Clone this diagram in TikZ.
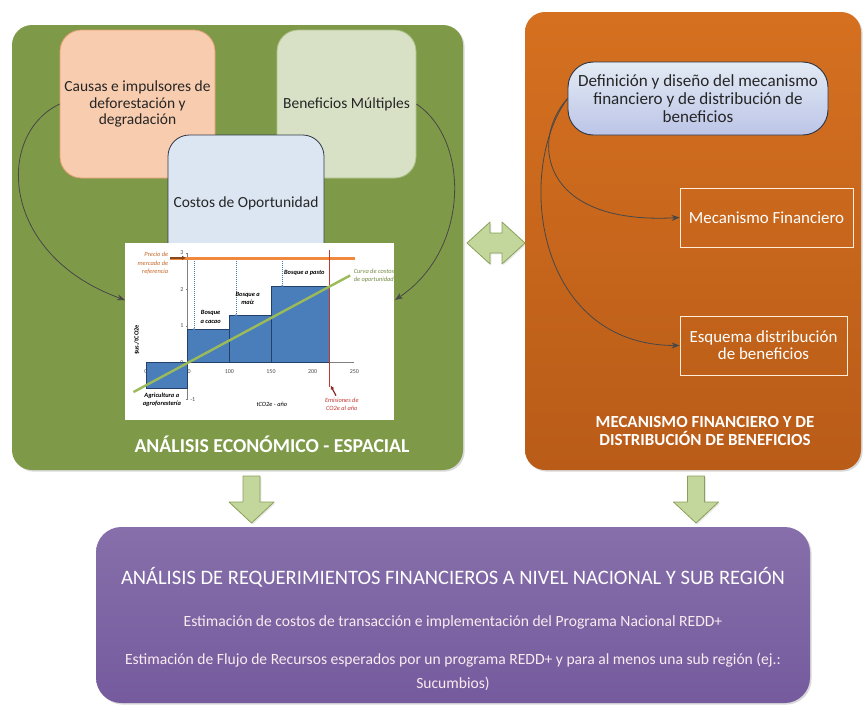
\documentclass[tikz,border=0pt]{standalone}
\usepackage{fontspec}
\setmainfont{Carlito}
\usetikzlibrary{arrows.meta}
\usetikzlibrary{fit}
\usetikzlibrary{shadows}

\definecolor{panelgreen}{RGB}{126,154,72}
\definecolor{orangetop}{RGB}{213,112,32}
\definecolor{orangebot}{RGB}{185,92,24}
\definecolor{purpletop}{RGB}{134,111,170}
\definecolor{purplebot}{RGB}{117,91,158}
\definecolor{peach}{RGB}{248,204,174}
\definecolor{peachline}{RGB}{228,160,116}
\definecolor{sage}{RGB}{216,225,197}
\definecolor{sageline}{RGB}{176,192,138}
\definecolor{paleblue}{RGB}{220,230,242}
\definecolor{darkline}{RGB}{45,55,72}
\definecolor{arrowgreen}{RGB}{195,214,155}
\definecolor{arrowline}{RGB}{138,160,90}
\definecolor{barblue}{RGB}{74,126,187}
\definecolor{barline}{RGB}{36,64,104}
\definecolor{priceorange}{RGB}{240,136,62}
\definecolor{costgreen}{RGB}{155,187,89}
\definecolor{emisred}{RGB}{192,58,52}
\definecolor{pricebrown}{RGB}{196,104,44}

\tikzset{
  panel/.style={draw=none, rounded corners=15pt, inner sep=0pt,
    drop shadow={opacity=0.3, shadow xshift=1.2pt, shadow yshift=-1.2pt}},
  panelhead/.style={text=white, font=\fontsize{12.7}{13.5}\selectfont\bfseries, align=center},
  topicbox/.style={rounded corners=16pt, inner sep=0pt, line width=0.6pt},
  topictext/.style={align=center, text=black!85, font=\fontsize{11.6}{12.7}\selectfont},
  mechbox/.style={draw=white!85!orange, line width=0.6pt, inner sep=0pt},
  mechtext/.style={align=center, text=white, font=\fontsize{12.7}{12.9}\selectfont},
  link/.style={draw=black!72, line width=0.6pt, -{Stealth[length=6pt,width=4.5pt]}},
  flowarrow/.style={fill=arrowgreen, draw=arrowline, line width=0.6pt, line join=round,
    drop shadow={opacity=0.2, shadow xshift=1pt, shadow yshift=-1pt}},
  bar/.style={fill=barblue, draw=barline, line width=0.6pt},
  charttext/.style={font=\fontsize{4.8}{6.2}\selectfont\itshape, align=center, inner sep=0pt},
  barlabel/.style={charttext, font=\fontsize{4.8}{6.2}\selectfont\itshape\bfseries},
  charttick/.style={font=\fontsize{4.5}{5}\selectfont, text=black!70, inner sep=0.5pt},
}

\begin{document}
\begin{tikzpicture}[x=0.75pt, y=-0.75pt]

 \useasboundingbox (0,0) rectangle (863,704);

 % two upper panels
 \node[panel, fill=panelgreen, fit={(12,25) (463,470)}] (analisis) {};
 \node[panel, top color=orangetop, bottom color=orangebot, fit={(525,12) (861,470)}] (mecanismoPanel) {};

 % boxes of the economic analysis
 \node[topicbox, fill=peach, draw=peachline, fit={(60,30) (215,178)}] (causas) {};
 \node[topictext] (causasText) at (causas.center) {Causas e impulsores de\\deforestación y\\degradación};
 \node[topicbox, fill=sage, draw=sageline, fit={(277,30) (416,178)}] (beneficios) {};
 \node[topictext] (beneficiosText) at (beneficios.center) {Beneficios Múltiples};
 \node[topicbox, fill=paleblue, draw=darkline, fit={(168,135) (324,271)}] (costos) {};
 \node[topictext] (costosText) at (costos.center) {Costos de Oportunidad};

 % opportunity cost curve
 \node[fill=white, inner sep=0pt, fit={(125,243) (394,420)}] (chart) {};
 \coordinate (chartL) at (125,300);
 \coordinate (chartR) at (395,300);

 \begin{scope}[shift={(146,362.7)}, x=0.625pt, y=27.5pt]
  \foreach \v in {0,50,...,250}
     \node[charttick] at (\v,-0.25) {\v};
  \foreach \v in {0,...,3}
     \node[charttick, anchor=east] at (46,\v) {\v};
  \node[charttick, anchor=west] at (52,-1) {-1};
  \foreach \v in {-1,...,3}
     \draw[black!50, line width=0.3pt] (48,\v) -- (50,\v);
  \draw[black!50, line width=0.4pt] (0,0) -- (250,0);
  \draw[black!50, line width=0.4pt] (50,-1) -- (50,3);

  \foreach \a/\b/\h in {0/50/-0.7, 50/100/0.91, 100/150/1.29, 150/220/2.09}
     \draw[bar] (\a,0) rectangle (\b,\h);

  \foreach \xx/\h in {57.6/0.91, 108/1.29, 163.6/2.09}
  {
     \draw[barblue, densely dotted, line width=0.5pt] (\xx,2.84) -- (\xx,\h);
     \fill[barblue] (\xx,2.84) circle (0.9pt);
     \fill[barblue] (\xx,\h) circle (0.9pt);
  }

  \draw[priceorange, line width=2pt] (29,2.84) -- (251,2.84);
  \draw[-{Latex[length=3pt,width=3.5pt]}, pricebrown!70!black, line width=1.3pt] (29,2.86) -- (48,2.86);
  \draw[emisred, line width=1.1pt] (220,3.07) -- (220,-0.65);
  \draw[-{Latex[length=3pt,width=3pt]}, emisred!70!black, line width=0.9pt] (228,-0.9) -- (221.5,-0.62);
  \draw[costgreen, line width=1.8pt] (-15,-0.8) -- (245,2.38);

  \node[charttext, text=pricebrown, anchor=east, align=right] at (27,2.71) {Precio de\\mercado de\\referencia};
  \node[charttext, text=costgreen!75!black, anchor=west, align=left] at (249,2.38) {Curva de costos\\de oportunidad};
  \node[barlabel] at (190,2.44) {Bosque a pasto};
  \node[barlabel] at (122,1.76) {Bosque a\\maíz};
  \node[barlabel] at (77.6,1.25) {Bosque\\a cacao};
  \node[barlabel] at (19,-1.02) {Agricultura a\\agroforestería};
  \node[charttext] at (151,-1.15) {tCO2e - año};
  \node[charttext, text=emisred] at (235,-1.14) {Emisiones de\\CO2e al año};
  \node[charttext, font=\fontsize{4.8}{6}\selectfont\bfseries, rotate=90] at (-11,0.62) {\$us./tCO2e};
 \end{scope}

 \draw[link] (causas.west) .. controls (-5,135) and (0,255) .. (chartL);
 \draw[link] (beneficios.east) .. controls (470,140) and (470,250) .. (chartR);

 \node[panelhead, font=\fontsize{14.8}{15}\selectfont\bfseries] (tituloA) at (272,444) {ANÁLISIS ECONÓMICO - ESPACIAL};

 % financial mechanism
 \node[topicbox, rounded corners=19pt, top color=paleblue!80!white, bottom color=paleblue!90!blue!95!black,
   draw=darkline, line width=0.7pt, fit={(568,62) (828,135)}] (definicion) {};
 \node[topictext, font=\fontsize{12.8}{13.5}\selectfont] (definicionText) at (definicion.center)
   {Definición y diseño del mecanismo\\financiero y de distribución de\\beneficios};
 \node[mechbox, fit={(680,188) (853,247)}] (mecanismo) {};
 \node[mechtext] (mecanismoText) at (mecanismo.center) {Mecanismo Financiero};
 \node[mechbox, fit={(680,316) (847,375)}] (esquema) {};
 \node[mechtext] (esquemaText) at (esquema.center) {Esquema distribución\\de beneficios};

 \draw[link] (definicion.west) .. controls (530,140) and (540,225) .. (mecanismo.west);
 \draw[link] (definicion.west) .. controls (515,170) and (535,345) .. (esquema.west);

 \node[panelhead] (tituloB) at (705,431) {MECANISMO FINANCIERO Y DE\\DISTRIBUCIÓN DE BENEFICIOS};

 % arrows between the panels
 \draw[flowarrow] (467,243) -- (490,222) -- (490,233) -- (502,233) -- (502,222) -- (525,243)
   -- (502,264) -- (502,253) -- (490,253) -- (490,264) -- cycle;
 \foreach \cx in {251.5,696}
 {
   \draw[flowarrow] ({\cx-8.5},476) -- ({\cx+8.5},476) -- ({\cx+8.5},502) -- ({\cx+22.5},502)
     -- (\cx,523) -- ({\cx-22.5},502) -- ({\cx-8.5},502) -- cycle;
 }

 % financial requirements
 \node[panel, rounded corners=19pt, top color=purpletop, bottom color=purplebot, fit={(96,527) (810,703)}] (requerimientos) {};
 \node[text=white, font=\fontsize{15.4}{16}\selectfont] (tituloC) at (453,577)
   {ANÁLISIS DE REQUERIMIENTOS FINANCIEROS A NIVEL NACIONAL Y SUB REGIÓN};
 \node[text=white!92!purple, font=\fontsize{11.7}{12}\selectfont] (costosTrans) at (453,622)
   {Estimación de costos de transacción e implementación del Programa Nacional REDD+};
 \node[text=white!92!purple, font=\fontsize{11.7}{18}\selectfont, align=center] (flujo) at (453,672)
   {Estimación de Flujo de Recursos esperados por un programa REDD+ y para al menos una sub región (ej.:\\Sucumbios)};

\end{tikzpicture}
\end{document}
